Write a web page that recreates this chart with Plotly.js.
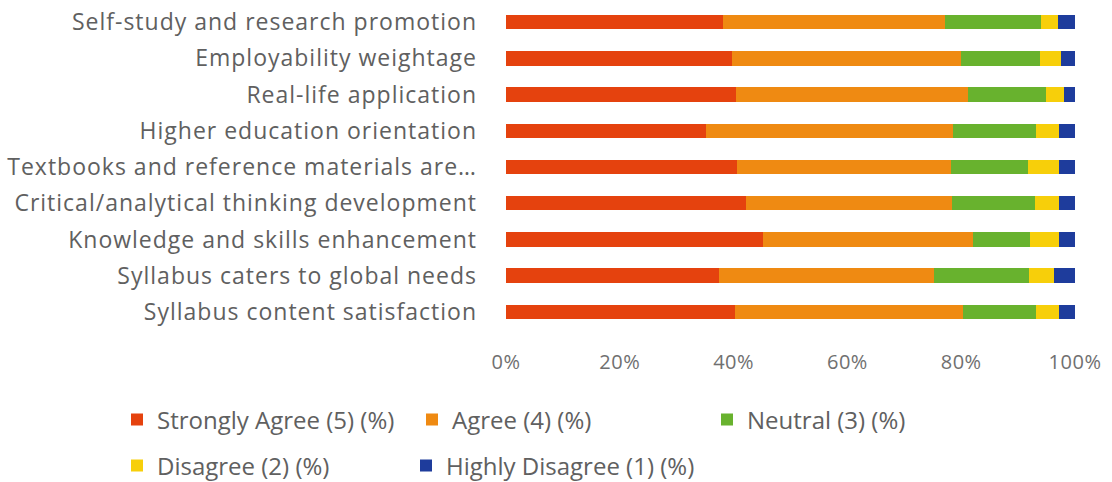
<!DOCTYPE html>
<html>
<head>
<meta charset="utf-8">
<script src="https://cdn.plot.ly/plotly-3.0.1.min.js"></script>
<style>
html,body{margin:0;padding:0;background:#fff;}
#chart{width:1112px;height:482px;}
#chart .ytick text{letter-spacing:1px;}
#chart .xtick text{letter-spacing:0.5px;}
</style>
</head>
<body>
<div id="chart"></div>
<script>
// Categories, top to bottom
const categories = [
  "Self-study and research promotion",
  "Employability weightage",
  "Real-life application",
  "Higher education orientation",
  "Textbooks and reference materials are…",
  "Critical/analytical thinking development",
  "Knowledge and skills enhancement",
  "Syllabus caters to global needs",
  "Syllabus content satisfaction"
];
const stronglyAgree   = [38.2, 39.7, 40.5, 35.1, 40.6, 42.2, 45.1, 37.5, 40.2];
const agree           = [38.9, 40.3, 40.7, 43.4, 37.6, 36.2, 36.9, 37.8, 40.1];
const neutral         = [16.9, 13.9, 13.7, 14.6, 13.6, 14.5, 10.1, 16.7, 12.9];
const disagree        = [ 3.0,  3.7,  3.1,  4.1,  5.4,  4.3,  5.1,  4.3,  4.0];
const highlyDisagree  = [ 3.0,  2.4,  2.0,  2.8,  2.8,  2.8,  2.8,  3.7,  2.8];
const seriesNames = [
  "Strongly Agree (5) (%)",
  "Agree (4) (%)",
  "Neutral (3) (%)",
  "Disagree (2) (%)",
  "Highly Disagree (1) (%)"
];
const seriesValues = [stronglyAgree, agree, neutral, disagree, highlyDisagree];
const seriesColors = ["#E5420E", "#EF8A12", "#68B22E", "#F7CF0A", "#1E3C9C"];
const legendIds = ["legend", "legend2", "legend3", "legend4", "legend5"];

const traces = seriesValues.map((vals, i) => ({
  type: "bar",
  orientation: "h",
  name: seriesNames[i],
  y: categories,
  x: vals,
  legend: legendIds[i],
  marker: {color: seriesColors[i], line: {width: 0}},
  hovertemplate: "%{y}: %{x}%<extra>" + seriesNames[i] + "</extra>"
}));

const FONT = "Open Sans, Lato, sans-serif";
const legendFont = {family: FONT, size: 24, color: "#606060"};
function mkLegend(xp, yp) {
  return {x: xp, y: yp, xanchor: "left", yanchor: "middle", orientation: "h",
          font: legendFont, bgcolor: "rgba(0,0,0,0)", borderwidth: 0,
          itemclick: false, itemdoubleclick: false};
}
// plot area: x 506..1075 px, y 4..330 px
const px2x = p => (p - 506) / 569;
const px2y = p => (330 - p) / 326;

const layout = {
  width: 1112, height: 482,
  margin: {l: 506, r: 37, t: 4, b: 152, pad: 0, autoexpand: false},
  paper_bgcolor: "#fff", plot_bgcolor: "#fff",
  barmode: "stack",
  bargap: 0.6,
  showlegend: true,
  xaxis: {
    range: [0, 100], dtick: 20, tick0: 0, ticksuffix: "%",
    showgrid: false, zeroline: false, showline: false, ticks: "",
    ticklabelstandoff: 18,
    tickfont: {family: FONT, size: 20, color: "#707070"},
    fixedrange: true
  },
  yaxis: {
    autorange: "reversed", showgrid: false, zeroline: false, showline: false,
    ticks: "", ticklabelstandoff: 28,
    tickfont: {family: FONT, size: 23, color: "#606060"},
    fixedrange: true
  },
  legend:  mkLegend(px2x(117), px2y(420)),
  legend2: mkLegend(px2x(412), px2y(420)),
  legend3: mkLegend(px2x(707), px2y(420)),
  legend4: mkLegend(px2x(117), px2y(466)),
  legend5: mkLegend(px2x(406), px2y(466))
};

Plotly.newPlot("chart", traces, layout, {displayModeBar: false});
</script>
</body>
</html>
